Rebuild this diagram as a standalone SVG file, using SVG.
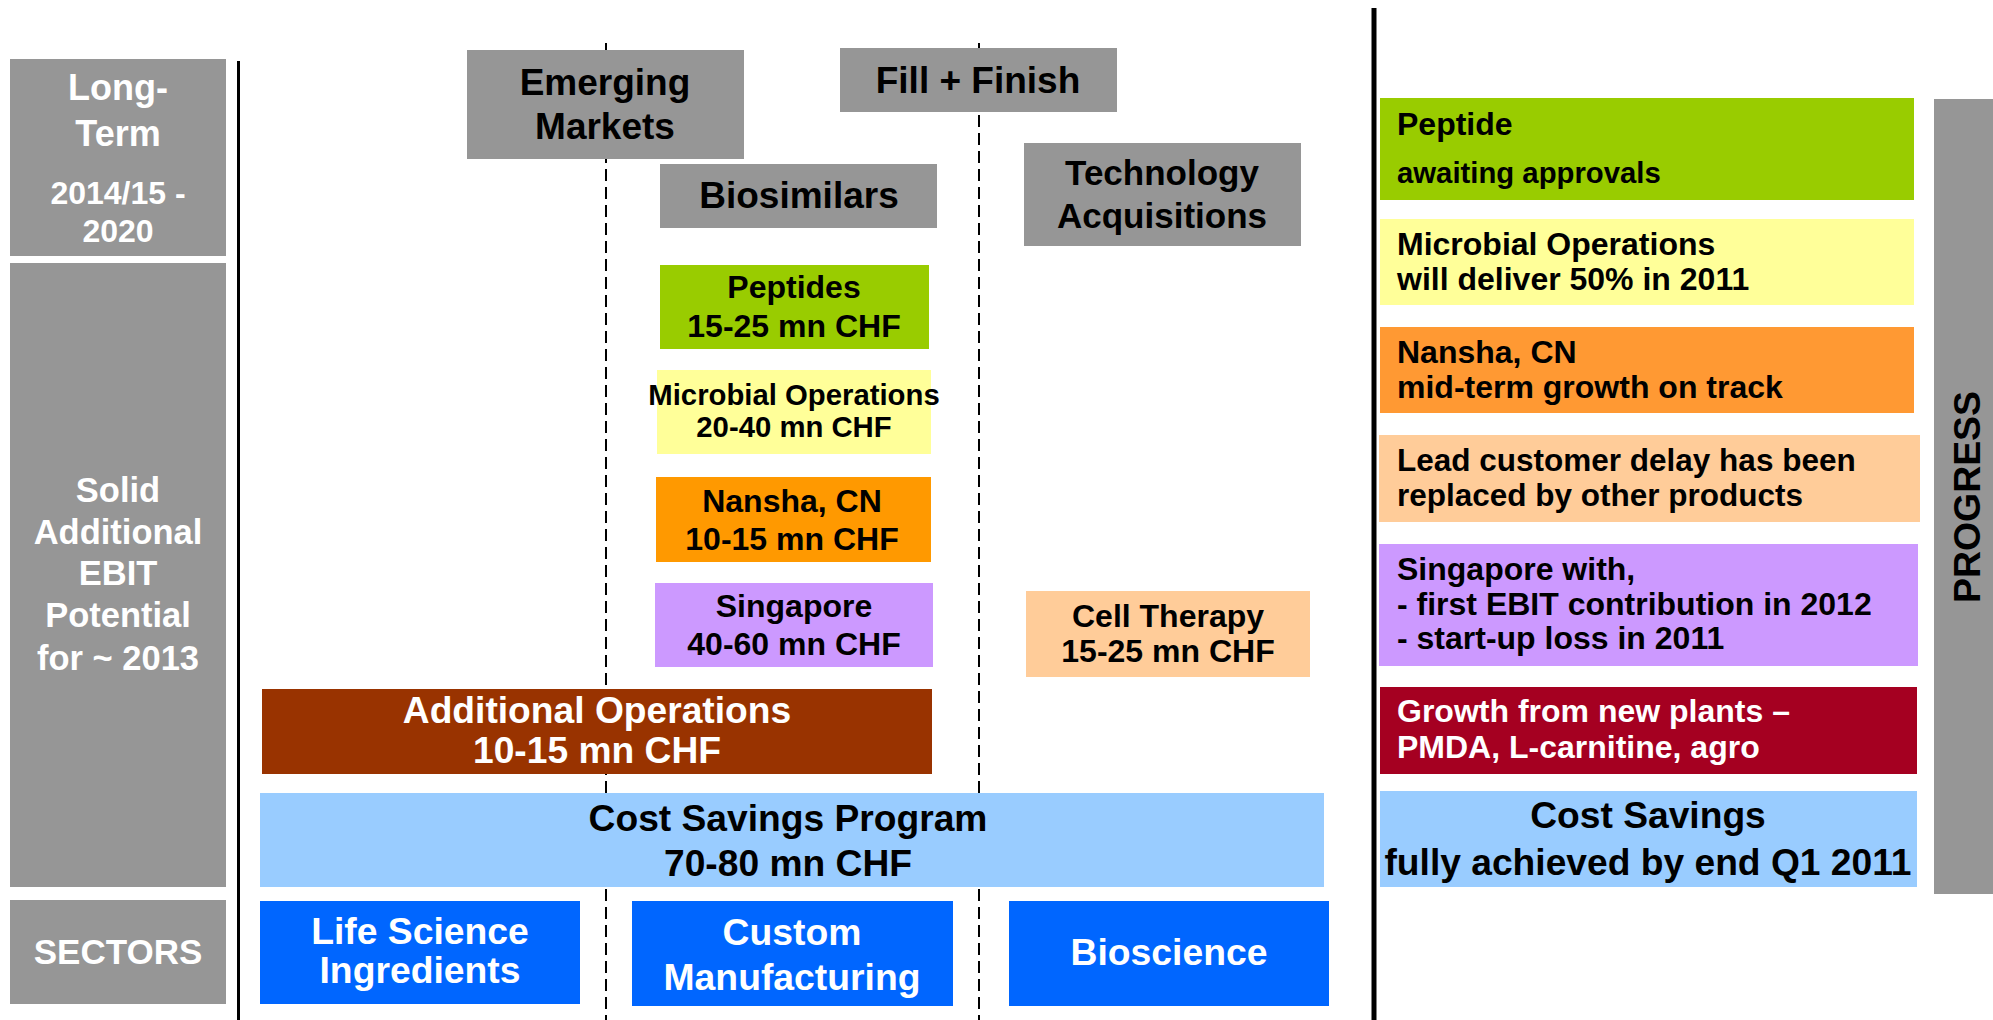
<svg xmlns="http://www.w3.org/2000/svg" width="1993" height="1020" viewBox="0 0 1993 1020">
  <style>
    text { font-family: "Liberation Sans", Arial, sans-serif; font-weight: bold; }
    .w { fill: #ffffff; }
    .k { fill: #000000; }
    .c { text-anchor: middle; }
    .grey { fill: #969696; }
    .dash { stroke: #000; stroke-width: 2; stroke-dasharray: 12 6; fill: none; }
  </style>

  <rect width="1993" height="1020" fill="#ffffff"/>

  <!-- separators -->
  <g id="connectors">
    <line class="dash" x1="606" y1="43" x2="606" y2="1020"/>
    <line class="dash" x1="979" y1="43" x2="979" y2="1020"/>
    <line x1="238.5" y1="61" x2="238.5" y2="1020" stroke="#000" stroke-width="3"/>
    <line x1="1374" y1="8" x2="1374" y2="1020" stroke="#000" stroke-width="5"/>
  </g>

  <!-- left header column -->
  <g id="long-term">
    <rect class="grey" x="10" y="59" width="216" height="197"/>
    <text class="w c" x="118" y="100" font-size="36">Long-</text>
    <text class="w c" x="118" y="146" font-size="36">Term</text>
    <text class="w c" x="118" y="204" font-size="32">2014/15 -</text>
    <text class="w c" x="118" y="242" font-size="32">2020</text>
  </g>
  <g id="ebit-potential">
    <rect class="grey" x="10" y="263" width="216" height="624"/>
    <text class="w c" x="118" y="502" font-size="34.5">Solid</text>
    <text class="w c" x="118" y="544" font-size="34.5">Additional</text>
    <text class="w c" x="118" y="585" font-size="34.5">EBIT</text>
    <text class="w c" x="118" y="627" font-size="34.5">Potential</text>
    <text class="w c" x="118" y="670" font-size="34.5">for ~ 2013</text>
  </g>
  <g id="sectors">
    <rect class="grey" x="10" y="900" width="216" height="104"/>
    <text class="w c" x="118" y="964" font-size="35">SECTORS</text>
  </g>

  <!-- long-term initiatives -->
  <g id="emerging-markets">
    <rect class="grey" x="467" y="50" width="277" height="109"/>
    <text class="k c" x="605" y="95" font-size="37">Emerging</text>
    <text class="k c" x="605" y="139" font-size="37">Markets</text>
  </g>
  <g id="fill-finish">
    <rect class="grey" x="840" y="48" width="277" height="64"/>
    <text class="k c" x="978" y="93" font-size="37">Fill + Finish</text>
  </g>
  <g id="biosimilars">
    <rect class="grey" x="660" y="164" width="277" height="64"/>
    <text class="k c" x="799" y="208" font-size="37">Biosimilars</text>
  </g>
  <g id="technology-acquisitions">
    <rect class="grey" x="1024" y="143" width="277" height="103"/>
    <text class="k c" x="1162" y="185" font-size="35">Technology</text>
    <text class="k c" x="1162" y="228" font-size="35">Acquisitions</text>
  </g>

  <!-- EBIT potential blocks -->
  <g id="peptides">
    <rect x="660" y="265" width="269" height="84" fill="#99CC00"/>
    <text class="k c" x="794" y="298" font-size="32">Peptides</text>
    <text class="k c" x="794" y="337" font-size="32">15-25 mn CHF</text>
  </g>
  <g id="microbial-operations">
    <rect x="657" y="370" width="274" height="84" fill="#FFFF99"/>
    <text class="k c" x="794" y="405" font-size="29.3">Microbial Operations</text>
    <text class="k c" x="794" y="437" font-size="29.3">20-40 mn CHF</text>
  </g>
  <g id="nansha">
    <rect x="656" y="477" width="275" height="85" fill="#FF9900"/>
    <text class="k c" x="792" y="512" font-size="32">Nansha, CN</text>
    <text class="k c" x="792" y="550" font-size="32">10-15 mn CHF</text>
  </g>
  <g id="singapore">
    <rect x="655" y="583" width="278" height="84" fill="#CC99FF"/>
    <text class="k c" x="794" y="617" font-size="32">Singapore</text>
    <text class="k c" x="794" y="655" font-size="32">40-60 mn CHF</text>
  </g>
  <g id="cell-therapy">
    <rect x="1026" y="591" width="284" height="86" fill="#FFCC99"/>
    <text class="k c" x="1168" y="627" font-size="32">Cell Therapy</text>
    <text class="k c" x="1168" y="662" font-size="32">15-25 mn CHF</text>
  </g>
  <g id="additional-operations">
    <rect x="262" y="689" width="670" height="85" fill="#993300"/>
    <text class="w c" x="597" y="723" font-size="37.2">Additional Operations</text>
    <text class="w c" x="597" y="763" font-size="37.2">10-15 mn CHF</text>
  </g>
  <g id="cost-savings-program">
    <rect x="260" y="793" width="1064" height="94" fill="#99CCFF"/>
    <text class="k c" x="788" y="831" font-size="37.2">Cost Savings Program</text>
    <text class="k c" x="788" y="876" font-size="37.2">70-80 mn CHF</text>
  </g>

  <!-- sectors -->
  <g id="life-science-ingredients">
    <rect x="260" y="901" width="320" height="103" fill="#0066FF"/>
    <text class="w c" x="420" y="944" font-size="37.3">Life Science</text>
    <text class="w c" x="420" y="983" font-size="37.3">Ingredients</text>
  </g>
  <g id="custom-manufacturing">
    <rect x="632" y="901" width="321" height="105" fill="#0066FF"/>
    <text class="w c" x="792" y="945" font-size="37.3">Custom</text>
    <text class="w c" x="792" y="990" font-size="37.3">Manufacturing</text>
  </g>
  <g id="bioscience">
    <rect x="1009" y="901" width="320" height="105" fill="#0066FF"/>
    <text class="w c" x="1169" y="965" font-size="37.3">Bioscience</text>
  </g>

  <!-- progress column -->
  <g id="progress-peptide">
    <rect x="1380" y="98" width="534" height="102" fill="#99CC00"/>
    <text class="k" x="1397" y="135" font-size="32">Peptide</text>
    <text class="k" x="1397" y="183" font-size="29.3">awaiting approvals</text>
  </g>
  <g id="progress-microbial">
    <rect x="1380" y="219" width="534" height="86" fill="#FFFF99"/>
    <text class="k" x="1397" y="255" font-size="32">Microbial Operations</text>
    <text class="k" x="1397" y="290" font-size="32">will deliver 50% in 2011</text>
  </g>
  <g id="progress-nansha">
    <rect x="1380" y="327" width="534" height="86" fill="#FF9933"/>
    <text class="k" x="1397" y="363" font-size="32">Nansha, CN</text>
    <text class="k" x="1397" y="398" font-size="32">mid-term growth on track</text>
  </g>
  <g id="progress-lead-customer">
    <rect x="1379" y="435" width="541" height="87" fill="#FFCC99"/>
    <text class="k" x="1397" y="471" font-size="31.5">Lead customer delay has been</text>
    <text class="k" x="1397" y="506" font-size="31.5">replaced by other products</text>
  </g>
  <g id="progress-singapore">
    <rect x="1379" y="544" width="539" height="122" fill="#CC99FF"/>
    <text class="k" x="1397" y="580" font-size="32">Singapore with,</text>
    <text class="k" x="1397" y="615" font-size="32">- first EBIT contribution in 2012</text>
    <text class="k" x="1397" y="649" font-size="32">- start-up loss in 2011</text>
  </g>
  <g id="progress-new-plants">
    <rect x="1380" y="687" width="537" height="87" fill="#A50021"/>
    <text class="w" x="1397" y="722" font-size="32">Growth from new plants –</text>
    <text class="w" x="1397" y="758" font-size="32">PMDA, L-carnitine, agro</text>
  </g>
  <g id="progress-cost-savings">
    <rect x="1380" y="791" width="537" height="96" fill="#99CCFF"/>
    <text class="k c" x="1648" y="828" font-size="37.2">Cost Savings</text>
    <text class="k c" x="1648" y="875" font-size="37.2">fully achieved by end Q1 2011</text>
  </g>
  <g id="progress-label">
    <rect class="grey" x="1934" y="99" width="59" height="795"/>
    <text class="k c" transform="translate(1980 497) rotate(-90)" font-size="37.4">PROGRESS</text>
  </g>
</svg>
